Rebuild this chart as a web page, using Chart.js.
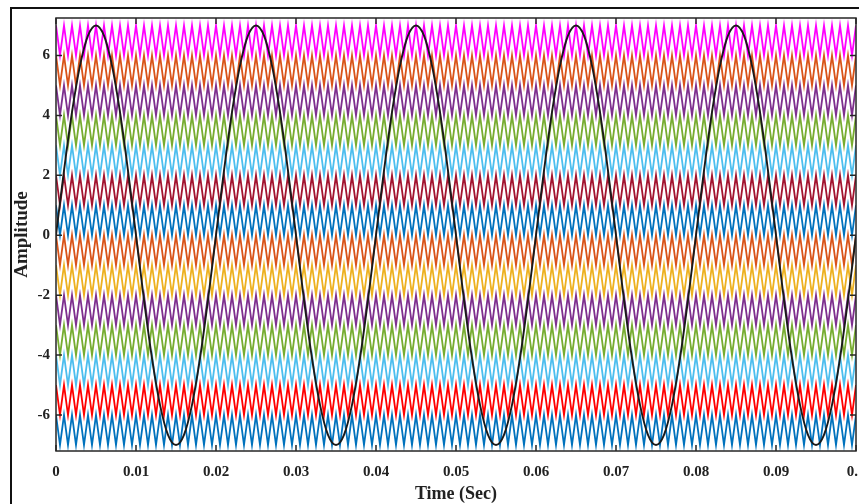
<!DOCTYPE html>
<html>
<head>
<meta charset="utf-8">
<script src="https://cdn.jsdelivr.net/npm/chart.js@4"></script>
<style>
  html, body { margin: 0; padding: 0; background: #fff; }
  #wrap { position: relative; width: 859px; height: 504px; overflow: hidden; }
</style>
</head>
<body>
<div id="wrap"><canvas id="chart" width="859" height="504"></canvas></div>
<script>
'use strict';
// carriers: lower edge of each band, bottom to top
const carrierLevels = [-7, -6, -5, -4, -3, -2, -1, 0, 1, 2, 3, 4, 5, 6];
const carrierColors = ['#0072BD', '#FF0000', '#4DBEEE', '#77AC30', '#7E2F8E', '#EDB120', '#D95319',
  '#0072BD', '#A2142F', '#4DBEEE', '#77AC30', '#7E2F8E', '#D95319', '#FF00FF'];
const carrierShape = [1, 0];      // vertices of one carrier cycle (peak, valley)
const carrierPeriod = 0.001;      // sec
const carrierCycles = 100;

// reference sine, one cycle read at 1 ms steps
const sineCycle = [0, 2.16, 4.11, 5.66, 6.66, 7, 6.66, 5.66, 4.11, 2.16,
  0, -2.16, -4.11, -5.66, -6.66, -7, -6.66, -5.66, -4.11, -2.16];
const sineStep = 0.001;
const sineCycles = 5;

const xTickValues = [0, 0.01, 0.02, 0.03, 0.04, 0.05, 0.06, 0.07, 0.08, 0.09, 0.1];
const xTickLabels = ['0', '0.01', '0.02', '0.03', '0.04', '0.05', '0.06', '0.07', '0.08', '0.09', '0.1'];
const yTickValues = [-6, -4, -2, 0, 2, 4, 6];

// build datasets
const sinePoints = [];
for (let c = 0; c < sineCycles; c++) {
  sineCycle.forEach((v, i) => sinePoints.push({ x: (c * sineCycle.length + i) * sineStep, y: v }));
}
sinePoints.push({ x: sineCycles * sineCycle.length * sineStep, y: sineCycle[0] });

const datasets = [{
  label: 'Reference',
  data: sinePoints,
  borderColor: '#1a1a1a',
  borderWidth: 1.9,
  pointRadius: 0,
  cubicInterpolationMode: 'monotone'
}];

carrierLevels.forEach((level, idx) => {
  const pts = [];
  const n = carrierCycles * carrierShape.length;
  for (let k = 0; k <= n; k++) {
    pts.push({ x: k * carrierPeriod / carrierShape.length, y: level + carrierShape[k % carrierShape.length] });
  }
  datasets.push({
    label: 'Carrier ' + (idx + 1),
    data: pts,
    borderColor: carrierColors[idx],
    borderWidth: 1.8,
    pointRadius: 0,
    tension: 0
  });
});

const serif = '"Liberation Serif", "Times New Roman", serif';

// frame, axes box and inward ticks
const framePlugin = {
  id: 'frame',
  beforeDraw(chart) {
    const ctx = chart.ctx;
    ctx.save();
    ctx.fillStyle = '#111';
    ctx.fillRect(10, 7, chart.width, 2);
    ctx.fillRect(10, 7, 2, chart.height);
    ctx.restore();
  },
  afterDatasetsDraw(chart) {
    const { ctx, chartArea: a, scales } = chart;
    ctx.save();
    ctx.strokeStyle = '#262626';
    ctx.lineWidth = 1.5;
    ctx.strokeRect(a.left, a.top, a.right - a.left, a.bottom - a.top);
    const tl = 6;
    ctx.beginPath();
    xTickValues.forEach(v => {
      const px = scales.x.getPixelForValue(v);
      ctx.moveTo(px, a.bottom); ctx.lineTo(px, a.bottom - tl);
      ctx.moveTo(px, a.top); ctx.lineTo(px, a.top + tl);
    });
    yTickValues.forEach(v => {
      const py = scales.y.getPixelForValue(v);
      ctx.moveTo(a.left, py); ctx.lineTo(a.left + tl, py);
      ctx.moveTo(a.right, py); ctx.lineTo(a.right - tl, py);
    });
    ctx.stroke();
    ctx.restore();
  }
};

const config = {
  type: 'line',
  data: { datasets: datasets },
  options: {
    responsive: false,
    devicePixelRatio: 1,
    animation: false,
    events: [],
    layout: { padding: { top: 18, right: 3, bottom: 0, left: 0 } },
    plugins: { legend: { display: false }, tooltip: { enabled: false } },
    scales: {
      x: {
        type: 'linear',
        min: 0,
        max: 0.1,
        grid: { display: false, drawTicks: false },
        border: { display: false },
        afterBuildTicks: s => { s.ticks = xTickValues.map(v => ({ value: v })); },
        afterFit: s => { s.height = 53; s.paddingLeft = 0; s.paddingRight = 0; },
        ticks: {
          autoSkip: false,
          maxRotation: 0,
          padding: 12,
          color: '#222',
          font: { family: serif, size: 15, weight: 'bold' },
          callback: (v, i) => xTickLabels[i]
        },
        title: {
          display: true,
          text: 'Time (Sec)',
          color: '#222',
          padding: { top: 0, bottom: 0 },
          font: { family: serif, size: 18, weight: 'bold', lineHeight: 1.1 }
        }
      },
      y: {
        min: -7.2,
        max: 7.25,
        grid: { display: false, drawTicks: false },
        border: { display: false },
        afterBuildTicks: s => { s.ticks = yTickValues.map(v => ({ value: v })); },
        afterFit: s => { s.width = 56; s.paddingTop = 0; s.paddingBottom = 0; },
        ticks: {
          padding: 6,
          color: '#222',
          font: { family: serif, size: 15, weight: 'bold' },
          callback: v => String(v)
        },
        title: {
          display: true,
          text: 'Amplitude',
          color: '#222',
          padding: { top: 11, bottom: 0 },
          font: { family: serif, size: 19, weight: 'bold', lineHeight: 1.2 }
        }
      }
    }
  },
  plugins: [framePlugin]
};

const canvasElem = document.getElementById('chart');
const myChart = new Chart(canvasElem, config);
</script>
</body>
</html>
